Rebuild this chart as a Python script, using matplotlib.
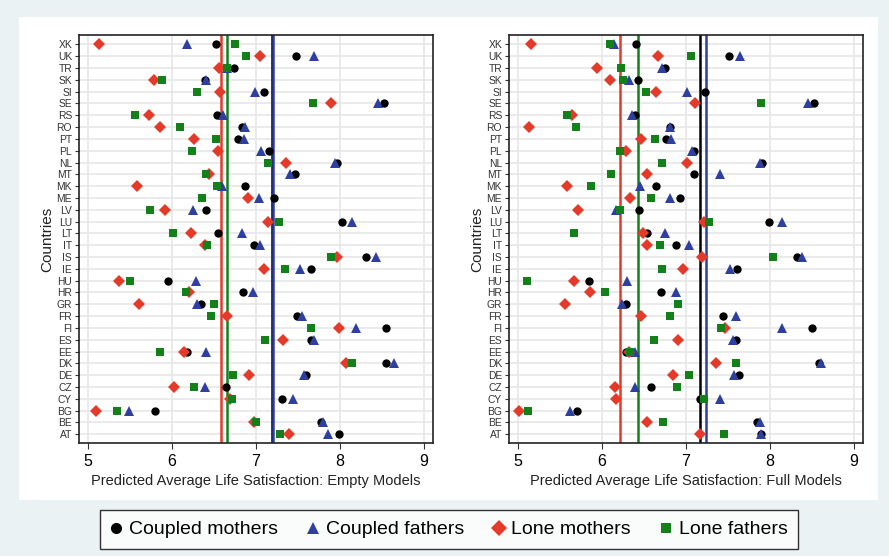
import numpy as np
import matplotlib
matplotlib.use('Agg')
import matplotlib.pyplot as plt
from matplotlib.lines import Line2D

plt.rcParams['font.family'] = ['Liberation Sans', 'DejaVu Sans']

countries = ['XK', 'UK', 'TR', 'SK', 'SI', 'SE', 'RS', 'RO', 'PT', 'PL', 'NL', 'MT', 'MK', 'ME',
             'LV', 'LU', 'LT', 'IT', 'IS', 'IE', 'HU', 'HR', 'GR', 'FR', 'FI', 'ES', 'EE', 'DK',
             'DE', 'CZ', 'CY', 'BG', 'BE', 'AT']

# empty models
empty_cm = [6.52, 7.48, 6.74, 6.39, 7.09, 8.53, 6.54, 6.83, 6.78, 7.15, 7.97, 7.47, 6.87, 7.21,
            6.40, 8.03, 6.55, 6.98, 8.31, 7.66, 5.95, 6.84, 6.34, 7.49, 8.55, 7.65, 6.18, 8.55,
            7.60, 6.64, 7.31, 5.80, 7.77, 7.99]
empty_cf = [6.18, 7.69, 6.65, 6.40, 6.99, 8.46, 6.61, 6.87, 6.86, 7.06, 7.94, 7.41, 6.59, 7.03,
            6.25, 8.14, 6.83, 7.05, 8.43, 7.52, 6.28, 6.96, 6.30, 7.55, 8.19, 7.69, 6.40, 8.65,
            7.57, 6.39, 7.44, 5.49, 7.80, 7.86]
empty_lm = [5.13, 7.05, 6.56, 5.78, 6.57, 7.89, 5.72, 5.86, 6.26, 6.55, 7.36, 6.44, 5.58, 6.90,
            5.92, 7.14, 6.22, 6.39, 7.97, 7.10, 5.37, 6.20, 5.61, 6.65, 7.99, 7.32, 6.14, 8.07,
            6.92, 6.02, 6.69, 5.09, 6.98, 7.39]
empty_lf = [6.75, 6.88, 6.65, 5.88, 6.30, 7.68, 5.56, 6.09, 6.52, 6.24, 7.14, 6.40, 6.54, 6.36,
            5.74, 7.28, 6.01, 6.42, 7.90, 7.35, 5.50, 6.17, 6.50, 6.46, 7.66, 7.11, 5.86, 8.15,
            6.72, 6.26, 6.71, 5.34, 7.00, 7.29]
empty_means = [7.19, 7.20, 6.58, 6.65]  # cm, cf, lm, lf

# full models
full_cm = [6.40, 7.51, 6.75, 6.43, 7.23, 8.53, 6.39, 6.81, 6.76, 7.09, 7.91, 7.10, 6.64, 6.93,
           6.44, 7.99, 6.53, 6.88, 8.32, 7.61, 5.84, 6.70, 6.29, 7.44, 8.50, 7.60, 6.28, 8.58,
           7.63, 6.58, 7.17, 5.70, 7.85, 7.89]
full_cf = [6.14, 7.64, 6.71, 6.32, 7.01, 8.45, 6.36, 6.81, 6.82, 7.07, 7.88, 7.41, 6.45, 6.81,
           6.17, 8.15, 6.75, 7.04, 8.38, 7.53, 6.30, 6.88, 6.24, 7.60, 8.15, 7.56, 6.39, 8.61,
           7.57, 6.39, 7.40, 5.62, 7.88, 7.89]
full_lm = [5.15, 6.67, 5.94, 6.09, 6.64, 7.11, 5.64, 5.13, 6.46, 6.29, 7.01, 6.54, 5.58, 6.33,
           5.71, 7.21, 6.49, 6.53, 7.19, 6.97, 5.66, 5.86, 5.56, 6.46, 7.46, 6.90, 6.32, 7.36,
           6.85, 6.15, 6.16, 5.01, 6.54, 7.17]
full_lf = [6.09, 7.06, 6.22, 6.25, 6.52, 7.89, 5.58, 5.69, 6.63, 6.21, 6.71, 6.11, 5.87, 6.58,
           6.21, 7.28, 5.66, 6.69, 8.04, 6.71, 5.10, 6.03, 6.91, 6.81, 7.42, 6.62, 6.33, 7.60,
           7.03, 6.89, 7.22, 5.12, 6.73, 7.45]
full_means = [7.17, 7.24, 6.21, 6.43]

labels = ['Coupled mothers', 'Coupled fathers', 'Lone mothers', 'Lone fathers']
colors = ['black', '#2e3f9e', '#e33a2a', '#13801a']
markers = ['o', '^', 'D', 's']
msizes = [6.0, 6.8, 6.6, 5.8]

fig = plt.figure(figsize=(8.89, 5.56), dpi=100)
fig.patch.set_facecolor('#eaf2f3')

# white plot region behind both panels
bg = fig.add_axes([19/889, 1-500/556, 859/889, 483/556])
bg.set_facecolor('white')
bg.set_xticks([])
bg.set_yticks([])
for sp in bg.spines.values():
    sp.set_visible(False)
bg.set_zorder(-5)

ypos = np.arange(len(countries))[::-1]


def draw_panel(rect, series, means, xlabel):
    ax = fig.add_axes(rect)
    ax.set_facecolor('white')
    ax.set_xlim(4.89, 9.11)
    ax.set_ylim(-0.77, len(countries) - 1 + 0.82)
    ax.set_xticks([5, 6, 7, 8, 9])
    ax.set_yticks(ypos)
    ax.set_yticklabels(countries, fontsize=7.4, color='#333333')
    ax.tick_params(axis='x', labelsize=11.5, length=4, color='#333333')
    ax.tick_params(axis='y', length=3, pad=2, color='#333333')
    ax.grid(True, color='#e6e6e6', linewidth=1.2, zorder=0)
    ax.set_axisbelow(True)
    for sp in ax.spines.values():
        sp.set_color('#222222')
        sp.set_linewidth(1.2)
    # mean lines (black first, navy on top)
    for k in range(4):
        ax.axvline(means[k], color=colors[k], linewidth=1.8, zorder=2)
    for k in range(4):
        ax.plot(series[k], ypos, linestyle='none', marker=markers[k], color=colors[k],
                markersize=msizes[k], markeredgewidth=0, zorder=3 + k)
    ax.set_xlabel(xlabel, fontsize=10.5, color='#222222', labelpad=4)
    ax.set_ylabel('Countries', fontsize=11, color='#222222', labelpad=2)
    return ax


draw_panel([79/889, 1-443.3/556, 354/889, 408.6/556],
           [empty_cm, empty_cf, empty_lm, empty_lf], empty_means,
           'Predicted Average Life Satisfaction: Empty Models')
draw_panel([509/889, 1-443.3/556, 354/889, 408.6/556],
           [full_cm, full_cf, full_lm, full_lf], full_means,
           'Predicted Average Life Satisfaction: Full Models')

handles = [Line2D([], [], linestyle='none', marker=markers[k], color=colors[k],
                  markersize=msizes[k] + 2, markeredgewidth=0) for k in range(4)]
leg = fig.legend(handles, labels, loc='center', bbox_to_anchor=(449/889, 1-529.5/556),
                 ncol=4, fontsize=14, frameon=True, fancybox=False, handlelength=0.6,
                 handletextpad=0.35, columnspacing=1.5, borderpad=0.55)
leg.get_frame().set_edgecolor('black')
leg.get_frame().set_linewidth(1.0)

fig.savefig('out.png', dpi=100, facecolor=fig.get_facecolor())
